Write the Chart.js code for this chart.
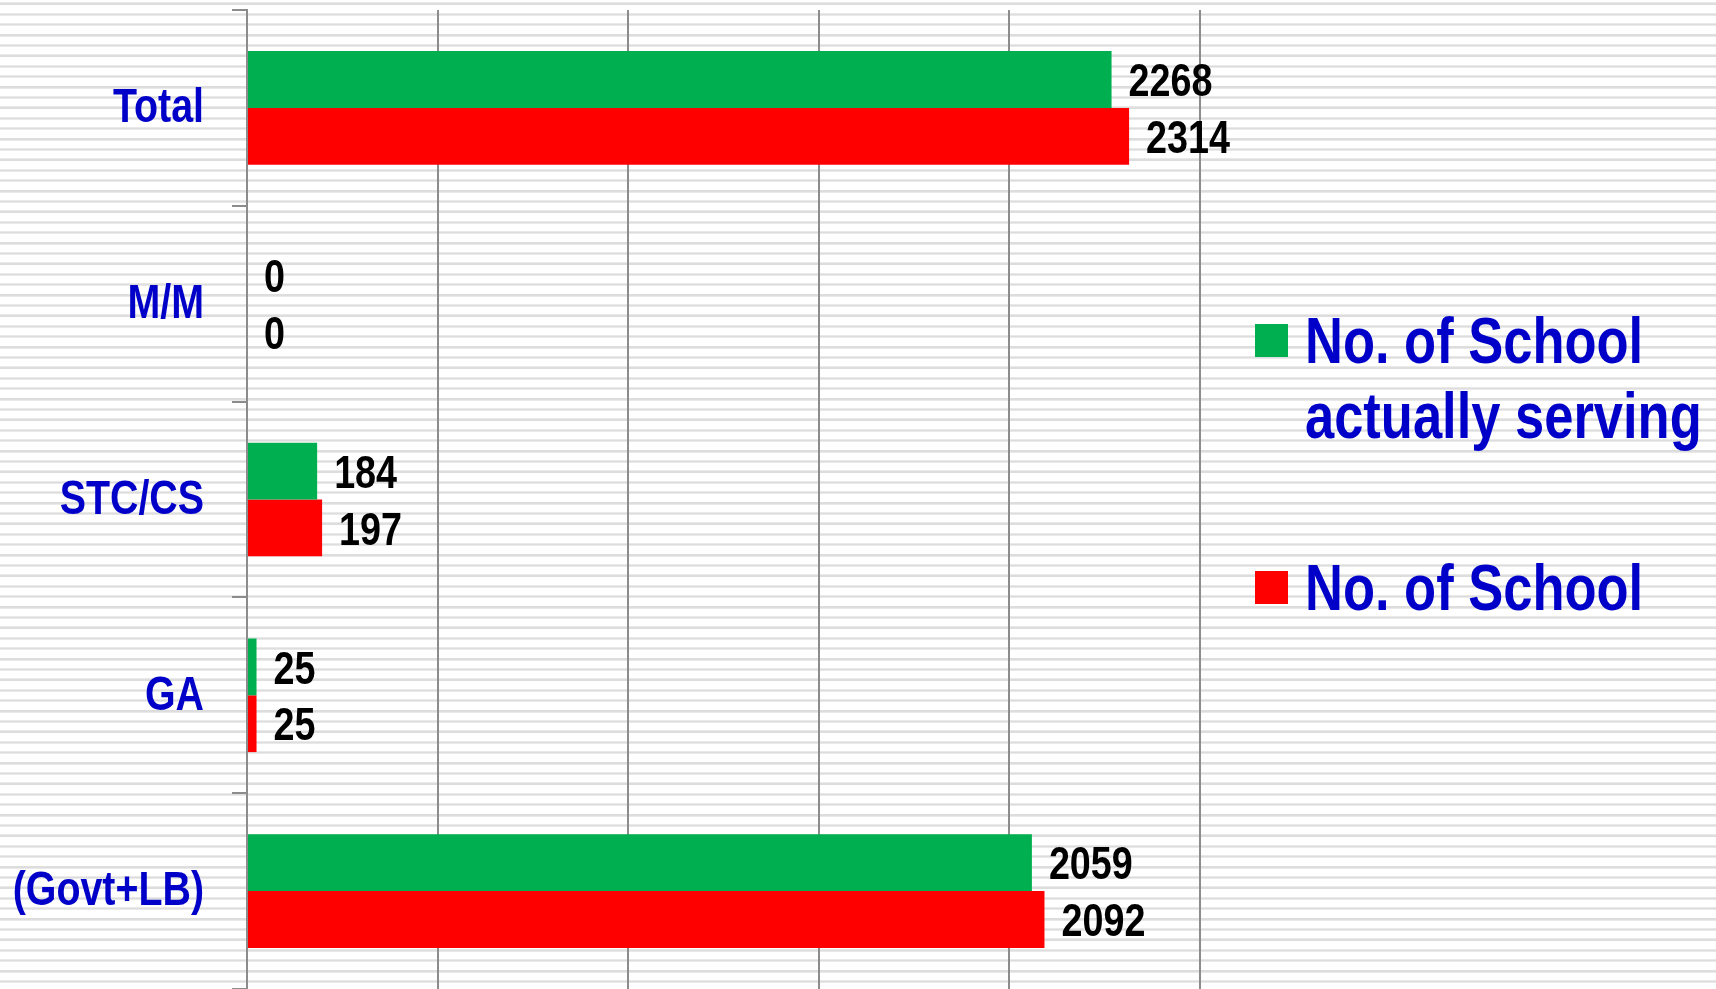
<!DOCTYPE html>
<html>
<head>
<meta charset="utf-8">
<script src="https://cdn.jsdelivr.net/npm/chart.js@4.4.1/dist/chart.umd.min.js"></script>
<style>
  html, body { margin: 0; padding: 0; }
  body {
    width: 1716px; height: 989px; overflow: hidden; position: relative;
    background: repeating-linear-gradient(#ffffff 0px 7.4px, #e9e9e9 7.4px 8.2px, #dddddd 8.2px 9.6px, #e9e9e9 9.6px 10.4px);
    background-position: 0 -5px;
    font-family: "Liberation Sans", Arial, sans-serif;
  }
  #wrap { position: absolute; left: 0; top: 0; width: 1716px; height: 989px; }
  #legend { position: absolute; left: 1255px; top: 0; }
  .item { position: absolute; left: 0; white-space: nowrap; }
  .box { position: absolute; left: 0; width: 33px; height: 33px; }
  .txt { position: absolute; left: 50px; font-weight: bold; font-size: 64px; line-height: 75px; color: #0000c8;
         transform: scaleX(0.82); transform-origin: 0 0; }
</style>
</head>
<body>
<div id="wrap"><canvas id="myChart" width="1716" height="989"></canvas></div>
<div id="legend"></div>
<script>
const categories = ["Total", "M/M", "STC/CS", "GA", "(Govt+LB)"];
const serving = [2268, 0, 184, 25, 2059];
const schools = [2314, 0, 197, 25, 2092];
const seriesNames = ["No. of School actually serving", "No. of School"];
const seriesColors = ["#00b050", "#ff0000"];

const squeeze = 0.82; // narrow look, like Arial Narrow

// category names, placed by the y scale
const catLabels = {
    id: "catLabels",
    afterDraw(chart) {
        const ctx = chart.ctx;
        const y = chart.scales.y;
        ctx.save();
        ctx.scale(squeeze, 1);
        ctx.font = "bold 48px 'Liberation Sans', Arial, sans-serif";
        ctx.fillStyle = "#0000c8";
        ctx.textAlign = "right";
        ctx.textBaseline = "middle";
        chart.data.labels.forEach((lab, i) => {
            ctx.fillText(lab, (y.right - 43) / squeeze, y.getPixelForValue(i) + 1);
        });
        ctx.restore();
    }
};

// value labels at the end of each bar
const valueLabels = {
    id: "valueLabels",
    afterDatasetsDraw(chart) {
        const ctx = chart.ctx;
        ctx.save();
        ctx.scale(squeeze, 1);
        ctx.font = "bold 46px 'Liberation Sans', Arial, sans-serif";
        ctx.fillStyle = "#000";
        ctx.textAlign = "left";
        ctx.textBaseline = "middle";
        chart.data.datasets.forEach((ds, i) => {
            chart.getDatasetMeta(i).data.forEach((bar, j) => {
                ctx.fillText(ds.data[j], (bar.x + 17) / squeeze, bar.y + 4);
            });
        });
        ctx.restore();
    }
};

const ctx = document.getElementById("myChart").getContext("2d");
const myChart = new Chart(ctx, {
    type: "bar",
    data: {
        labels: categories,
        datasets: [
            { label: seriesNames[0], data: serving, backgroundColor: seriesColors[0] },
            { label: seriesNames[1], data: schools, backgroundColor: seriesColors[1] }
        ]
    },
    options: {
        indexAxis: "y",
        responsive: false,
        animation: false,
        layout: { padding: { top: 10, right: 516, bottom: -3, left: 0 } },
        datasets: { bar: { barPercentage: 1, categoryPercentage: 0.58 } },
        plugins: { legend: { display: false }, tooltip: { enabled: false } },
        scales: {
            x: {
                min: 0, max: 2500,
                ticks: { display: false, stepSize: 500 },
                grid: { color: "#8c8c8c", lineWidth: 2, drawTicks: false },
                border: { display: false },
                afterFit: (s) => { s.height = 0; }
            },
            y: {
                ticks: { display: false },
                grid: { drawOnChartArea: false, offset: true, tickLength: 15, color: "#8c8c8c", lineWidth: 2 },
                border: { color: "#8c8c8c", width: 2 },
                afterFit: (s) => { s.width = 247; }
            }
        }
    },
    plugins: [valueLabels, catLabels]
});

// legend from the datasets
const legendTops = [[324, 304], [571, 551]];
let html = "";
myChart.data.datasets.forEach((ds, i) => {
    let words = ds.label;
    if (i == 0) words = "No. of School<br>actually serving";
    html += '<div class="item" style="top:' + legendTops[i][0] + 'px">'
        + '<div class="box" style="background:' + ds.backgroundColor + '"></div>'
        + '<div class="txt" style="top:' + (legendTops[i][1] - legendTops[i][0]) + 'px">' + words + '</div></div>';
});
document.getElementById("legend").innerHTML = html;
</script>
</body>
</html>
